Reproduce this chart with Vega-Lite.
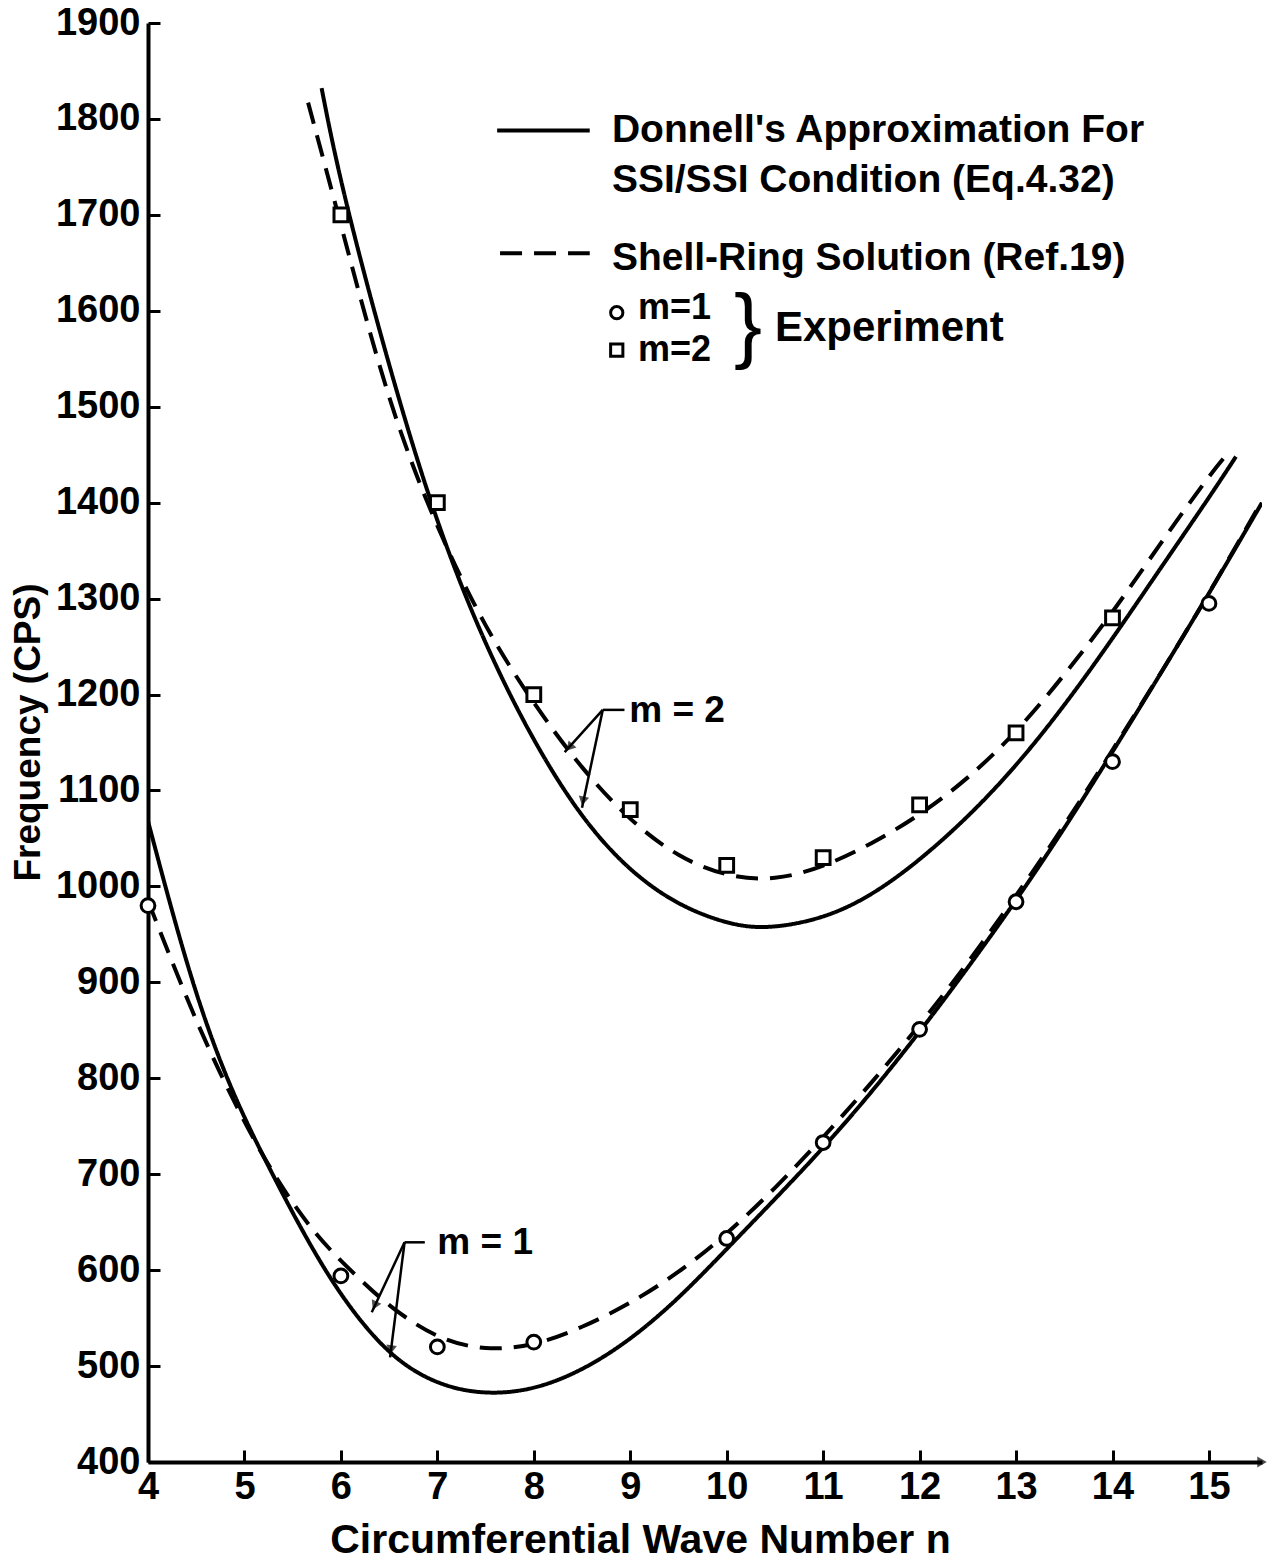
{
  "$schema": "https://vega.github.io/schema/vega-lite/v6.json",
  "width": 1114,
  "height": 1439,
  "autosize": {"type": "none"},
  "padding": {"left": 148, "top": 23, "right": 12, "bottom": 105},
  "background": "white",
  "config": {
    "view": {"stroke": null},
    "font": "Liberation Sans",
    "axis": {
      "domainColor": "black", "domainWidth": 4, "tickColor": "black", "tickWidth": 3,
      "grid": false, "labelFont": "Liberation Sans", "labelFontWeight": "bold", "labelColor": "black",
      "titleFont": "Liberation Sans", "titleFontWeight": "bold", "titleColor": "black"
    }
  },
  "datasets": {
    "curves": [
      {"n": 5.8, "f": 1832, "m": "2", "model": "Donnell"},
      {"n": 6.0, "f": 1730, "m": "2", "model": "Donnell"},
      {"n": 6.5, "f": 1540, "m": "2", "model": "Donnell"},
      {"n": 7.0, "f": 1375, "m": "2", "model": "Donnell"},
      {"n": 7.5, "f": 1250, "m": "2", "model": "Donnell"},
      {"n": 8.0, "f": 1150, "m": "2", "model": "Donnell"},
      {"n": 8.5, "f": 1070, "m": "2", "model": "Donnell"},
      {"n": 9.0, "f": 1015, "m": "2", "model": "Donnell"},
      {"n": 9.5, "f": 980, "m": "2", "model": "Donnell"},
      {"n": 10.0, "f": 961, "m": "2", "model": "Donnell"},
      {"n": 10.4, "f": 955, "m": "2", "model": "Donnell"},
      {"n": 11.0, "f": 966, "m": "2", "model": "Donnell"},
      {"n": 11.5, "f": 990, "m": "2", "model": "Donnell"},
      {"n": 12.0, "f": 1027, "m": "2", "model": "Donnell"},
      {"n": 12.5, "f": 1072, "m": "2", "model": "Donnell"},
      {"n": 13.0, "f": 1125, "m": "2", "model": "Donnell"},
      {"n": 13.5, "f": 1188, "m": "2", "model": "Donnell"},
      {"n": 14.0, "f": 1258, "m": "2", "model": "Donnell"},
      {"n": 14.5, "f": 1332, "m": "2", "model": "Donnell"},
      {"n": 15.0, "f": 1405, "m": "2", "model": "Donnell"},
      {"n": 15.28, "f": 1448, "m": "2", "model": "Donnell"},

      {"n": 5.66, "f": 1817, "m": "2", "model": "Shell-Ring"},
      {"n": 6.0, "f": 1690, "m": "2", "model": "Shell-Ring"},
      {"n": 6.5, "f": 1500, "m": "2", "model": "Shell-Ring"},
      {"n": 7.0, "f": 1372, "m": "2", "model": "Shell-Ring"},
      {"n": 7.5, "f": 1268, "m": "2", "model": "Shell-Ring"},
      {"n": 8.0, "f": 1190, "m": "2", "model": "Shell-Ring"},
      {"n": 8.5, "f": 1122, "m": "2", "model": "Shell-Ring"},
      {"n": 9.0, "f": 1068, "m": "2", "model": "Shell-Ring"},
      {"n": 9.5, "f": 1030, "m": "2", "model": "Shell-Ring"},
      {"n": 10.0, "f": 1010, "m": "2", "model": "Shell-Ring"},
      {"n": 10.5, "f": 1006, "m": "2", "model": "Shell-Ring"},
      {"n": 11.0, "f": 1020, "m": "2", "model": "Shell-Ring"},
      {"n": 11.5, "f": 1044, "m": "2", "model": "Shell-Ring"},
      {"n": 12.0, "f": 1074, "m": "2", "model": "Shell-Ring"},
      {"n": 12.5, "f": 1112, "m": "2", "model": "Shell-Ring"},
      {"n": 13.0, "f": 1160, "m": "2", "model": "Shell-Ring"},
      {"n": 13.5, "f": 1220, "m": "2", "model": "Shell-Ring"},
      {"n": 14.0, "f": 1285, "m": "2", "model": "Shell-Ring"},
      {"n": 14.5, "f": 1358, "m": "2", "model": "Shell-Ring"},
      {"n": 15.0, "f": 1428, "m": "2", "model": "Shell-Ring"},
      {"n": 15.2, "f": 1452, "m": "2", "model": "Shell-Ring"},

      {"n": 4.0, "f": 1068, "m": "1", "model": "Donnell"},
      {"n": 4.42, "f": 909, "m": "1", "model": "Donnell"},
      {"n": 4.8, "f": 801, "m": "1", "model": "Donnell"},
      {"n": 5.17, "f": 723, "m": "1", "model": "Donnell"},
      {"n": 5.6, "f": 640, "m": "1", "model": "Donnell"},
      {"n": 6.0, "f": 572, "m": "1", "model": "Donnell"},
      {"n": 6.5, "f": 510, "m": "1", "model": "Donnell"},
      {"n": 7.0, "f": 480, "m": "1", "model": "Donnell"},
      {"n": 7.5, "f": 470, "m": "1", "model": "Donnell"},
      {"n": 8.0, "f": 475, "m": "1", "model": "Donnell"},
      {"n": 8.5, "f": 495, "m": "1", "model": "Donnell"},
      {"n": 9.0, "f": 527, "m": "1", "model": "Donnell"},
      {"n": 9.5, "f": 570, "m": "1", "model": "Donnell"},
      {"n": 10.0, "f": 622, "m": "1", "model": "Donnell"},
      {"n": 10.5, "f": 674, "m": "1", "model": "Donnell"},
      {"n": 11.0, "f": 727, "m": "1", "model": "Donnell"},
      {"n": 11.5, "f": 785, "m": "1", "model": "Donnell"},
      {"n": 12.0, "f": 848, "m": "1", "model": "Donnell"},
      {"n": 12.5, "f": 915, "m": "1", "model": "Donnell"},
      {"n": 13.0, "f": 985, "m": "1", "model": "Donnell"},
      {"n": 13.5, "f": 1060, "m": "1", "model": "Donnell"},
      {"n": 14.0, "f": 1140, "m": "1", "model": "Donnell"},
      {"n": 14.5, "f": 1222, "m": "1", "model": "Donnell"},
      {"n": 15.0, "f": 1305, "m": "1", "model": "Donnell"},
      {"n": 15.55, "f": 1400, "m": "1", "model": "Donnell"},

      {"n": 4.0, "f": 985, "m": "1", "model": "Shell-Ring"},
      {"n": 4.43, "f": 875, "m": "1", "model": "Shell-Ring"},
      {"n": 4.8, "f": 793, "m": "1", "model": "Shell-Ring"},
      {"n": 5.24, "f": 708, "m": "1", "model": "Shell-Ring"},
      {"n": 5.72, "f": 637, "m": "1", "model": "Shell-Ring"},
      {"n": 6.17, "f": 593, "m": "1", "model": "Shell-Ring"},
      {"n": 6.5, "f": 562, "m": "1", "model": "Shell-Ring"},
      {"n": 7.0, "f": 528, "m": "1", "model": "Shell-Ring"},
      {"n": 7.5, "f": 516, "m": "1", "model": "Shell-Ring"},
      {"n": 8.0, "f": 521, "m": "1", "model": "Shell-Ring"},
      {"n": 8.5, "f": 540, "m": "1", "model": "Shell-Ring"},
      {"n": 9.0, "f": 565, "m": "1", "model": "Shell-Ring"},
      {"n": 9.5, "f": 597, "m": "1", "model": "Shell-Ring"},
      {"n": 10.0, "f": 637, "m": "1", "model": "Shell-Ring"},
      {"n": 10.5, "f": 685, "m": "1", "model": "Shell-Ring"},
      {"n": 11.0, "f": 738, "m": "1", "model": "Shell-Ring"},
      {"n": 11.5, "f": 795, "m": "1", "model": "Shell-Ring"},
      {"n": 12.0, "f": 855, "m": "1", "model": "Shell-Ring"},
      {"n": 12.5, "f": 920, "m": "1", "model": "Shell-Ring"},
      {"n": 13.0, "f": 990, "m": "1", "model": "Shell-Ring"},
      {"n": 13.5, "f": 1063, "m": "1", "model": "Shell-Ring"},
      {"n": 14.0, "f": 1142, "m": "1", "model": "Shell-Ring"},
      {"n": 14.5, "f": 1222, "m": "1", "model": "Shell-Ring"},
      {"n": 15.0, "f": 1305, "m": "1", "model": "Shell-Ring"},
      {"n": 15.55, "f": 1402, "m": "1", "model": "Shell-Ring"}
    ],
    "experiment": [
      {"n": 4, "f": 980, "m": "1"},
      {"n": 6, "f": 594, "m": "1"},
      {"n": 7, "f": 520, "m": "1"},
      {"n": 8, "f": 525, "m": "1"},
      {"n": 10, "f": 633, "m": "1"},
      {"n": 11, "f": 733, "m": "1"},
      {"n": 12, "f": 851, "m": "1"},
      {"n": 13, "f": 984, "m": "1"},
      {"n": 14, "f": 1130, "m": "1"},
      {"n": 15, "f": 1295, "m": "1"},
      {"n": 6, "f": 1700, "m": "2"},
      {"n": 7, "f": 1400, "m": "2"},
      {"n": 8, "f": 1200, "m": "2"},
      {"n": 9, "f": 1080, "m": "2"},
      {"n": 10, "f": 1022, "m": "2"},
      {"n": 11, "f": 1030, "m": "2"},
      {"n": 12, "f": 1085, "m": "2"},
      {"n": 13, "f": 1160, "m": "2"},
      {"n": 14, "f": 1280, "m": "2"}
    ],
    "legendLines": [
      {"n": 7.62, "n2": 8.58, "f": 1788, "model": "Donnell"},
      {"n": 7.65, "n2": 8.58, "f": 1660, "model": "Shell-Ring"}
    ],
    "legendSymbols": [
      {"n": 8.86, "f": 1598, "m": "1"},
      {"n": 8.86, "f": 1559, "m": "2"}
    ],
    "texts": [
      {"n": 8.81, "f": 1788, "text": "Donnell's Approximation For"},
      {"n": 8.81, "f": 1736, "text": "SSI/SSI Condition (Eq.4.32)"},
      {"n": 8.81, "f": 1655, "text": "Shell-Ring Solution (Ref.19)"}
    ],
    "bigTexts": [
      {"n": 10.5, "f": 1582, "text": "Experiment"}
    ],
    "smallTexts": [
      {"n": 9.08, "f": 1603, "text": "m=1"},
      {"n": 9.08, "f": 1559, "text": "m=2"}
    ],
    "annotations": [
      {"n": 8.99, "f": 1183, "text": "m = 2"},
      {"n": 7.0, "f": 628, "text": "m = 1"}
    ],
    "brace": [
      {"n": 10.22, "f": 1582, "text": "}"}
    ],
    "leaders": [
      {"n": 8.715, "f": 1184, "n2": 8.94, "f2": 1184},
      {"n": 8.715, "f": 1184, "n2": 8.32, "f2": 1140},
      {"n": 8.715, "f": 1184, "n2": 8.5, "f2": 1082},
      {"n": 6.66, "f": 629, "n2": 6.87, "f2": 629},
      {"n": 6.66, "f": 629, "n2": 6.32, "f2": 556},
      {"n": 6.66, "f": 629, "n2": 6.51, "f2": 509}
    ],
    "heads": [
      {"n": 8.37, "f": 1145, "id": "a"},
      {"n": 8.51, "f": 1089, "id": "b"},
      {"n": 6.35, "f": 563, "id": "c"},
      {"n": 6.52, "f": 517, "id": "d"}
    ],
    "axisEnd": [
      {"n": 15.55, "f": 400}
    ]
  },
  "layer": [
    {
      "data": {"name": "curves"},
      "mark": {"type": "line", "interpolate": "basis", "strokeWidth": 4, "color": "black", "clip": true},
      "encoding": {
        "x": {
          "field": "n", "type": "quantitative",
          "scale": {"domain": [4, 15.55], "nice": false, "zero": false},
          "axis": {
            "values": [4, 5, 6, 7, 8, 9, 10, 11, 12, 13, 14, 15], "format": "d",
            "tickSize": -12, "labelPadding": 18, "labelFontSize": 38, "labelFlush": false,
            "title": "Circumferential Wave Number  n", "titleFontSize": 41,
            "titleX": 492, "titleY": 78, "titleBaseline": "middle", "titleAlign": "center"
          }
        },
        "y": {
          "field": "f", "type": "quantitative",
          "scale": {"domain": [400, 1900], "nice": false, "zero": false},
          "axis": {
            "values": [400, 500, 600, 700, 800, 900, 1000, 1100, 1200, 1300, 1400, 1500, 1600, 1700, 1800, 1900], "format": "d",
            "tickSize": -12, "labelPadding": 20, "labelFontSize": 38, "labelFlush": false,
            "title": "Frequency (CPS)", "titleFontSize": 37,
            "titleX": -120, "titleY": 709, "titleAngle": -90, "titleBaseline": "middle", "titleAlign": "center"
          }
        },
        "detail": {"field": "m"},
        "strokeDash": {
          "field": "model", "type": "nominal",
          "scale": {"domain": ["Donnell", "Shell-Ring"], "range": [[1, 0], [22, 12]]},
          "legend": null
        }
      }
    },
    {
      "data": {"name": "legendLines"},
      "mark": {"type": "rule", "strokeWidth": 4, "color": "black"},
      "encoding": {
        "x": {"field": "n", "type": "quantitative"},
        "x2": {"field": "n2"},
        "y": {"field": "f", "type": "quantitative"},
        "strokeDash": {"field": "model", "type": "nominal", "legend": null}
      }
    },
    {
      "data": {"name": "leaders"},
      "mark": {"type": "rule", "strokeWidth": 2.5, "color": "black"},
      "encoding": {
        "x": {"field": "n", "type": "quantitative"},
        "x2": {"field": "n2"},
        "y": {"field": "f", "type": "quantitative"},
        "y2": {"field": "f2"}
      }
    },
    {
      "data": {"name": "heads"},
      "transform": [{"filter": "datum.id == 'a'"}],
      "mark": {"type": "point", "shape": "triangle-up", "filled": true, "color": "black", "size": 110, "angle": 222},
      "encoding": {"x": {"field": "n", "type": "quantitative"}, "y": {"field": "f", "type": "quantitative"}}
    },
    {
      "data": {"name": "heads"},
      "transform": [{"filter": "datum.id == 'b'"}],
      "mark": {"type": "point", "shape": "triangle-up", "filled": true, "color": "black", "size": 110, "angle": 192},
      "encoding": {"x": {"field": "n", "type": "quantitative"}, "y": {"field": "f", "type": "quantitative"}}
    },
    {
      "data": {"name": "heads"},
      "transform": [{"filter": "datum.id == 'c'"}],
      "mark": {"type": "point", "shape": "triangle-up", "filled": true, "color": "black", "size": 110, "angle": 205},
      "encoding": {"x": {"field": "n", "type": "quantitative"}, "y": {"field": "f", "type": "quantitative"}}
    },
    {
      "data": {"name": "heads"},
      "transform": [{"filter": "datum.id == 'd'"}],
      "mark": {"type": "point", "shape": "triangle-up", "filled": true, "color": "black", "size": 110, "angle": 187},
      "encoding": {"x": {"field": "n", "type": "quantitative"}, "y": {"field": "f", "type": "quantitative"}}
    },
    {
      "data": {"name": "axisEnd"},
      "mark": {"type": "point", "shape": "triangle-right", "filled": true, "color": "black", "size": 120, "clip": false},
      "encoding": {"x": {"field": "n", "type": "quantitative"}, "y": {"field": "f", "type": "quantitative"}}
    },
    {
      "data": {"name": "experiment"},
      "mark": {"type": "point", "filled": true, "fill": "white", "stroke": "black", "strokeWidth": 3, "size": 190, "opacity": 1},
      "encoding": {
        "x": {"field": "n", "type": "quantitative"},
        "y": {"field": "f", "type": "quantitative"},
        "shape": {
          "field": "m", "type": "nominal",
          "scale": {"domain": ["1", "2"], "range": ["circle", "square"]},
          "legend": null
        }
      }
    },
    {
      "data": {"name": "legendSymbols"},
      "mark": {"type": "point", "filled": true, "fill": "white", "stroke": "black", "strokeWidth": 3, "size": 150, "opacity": 1},
      "encoding": {
        "x": {"field": "n", "type": "quantitative"},
        "y": {"field": "f", "type": "quantitative"},
        "shape": {"field": "m", "type": "nominal", "legend": null}
      }
    },
    {
      "data": {"name": "texts"},
      "mark": {"type": "text", "align": "left", "baseline": "middle", "font": "Liberation Sans", "fontWeight": "bold", "fontSize": 39, "color": "black"},
      "encoding": {
        "x": {"field": "n", "type": "quantitative"},
        "y": {"field": "f", "type": "quantitative"},
        "text": {"field": "text"}
      }
    },
    {
      "data": {"name": "bigTexts"},
      "mark": {"type": "text", "align": "left", "baseline": "middle", "font": "Liberation Sans", "fontWeight": "bold", "fontSize": 42, "color": "black"},
      "encoding": {
        "x": {"field": "n", "type": "quantitative"},
        "y": {"field": "f", "type": "quantitative"},
        "text": {"field": "text"}
      }
    },
    {
      "data": {"name": "smallTexts"},
      "mark": {"type": "text", "align": "left", "baseline": "middle", "font": "Liberation Sans", "fontWeight": "bold", "fontSize": 36, "color": "black"},
      "encoding": {
        "x": {"field": "n", "type": "quantitative"},
        "y": {"field": "f", "type": "quantitative"},
        "text": {"field": "text"}
      }
    },
    {
      "data": {"name": "annotations"},
      "mark": {"type": "text", "align": "left", "baseline": "middle", "font": "Liberation Sans", "fontWeight": "bold", "fontSize": 37, "color": "black"},
      "encoding": {
        "x": {"field": "n", "type": "quantitative"},
        "y": {"field": "f", "type": "quantitative"},
        "text": {"field": "text"}
      }
    },
    {
      "data": {"name": "brace"},
      "mark": {"type": "text", "align": "center", "baseline": "middle", "font": "Liberation Sans", "fontWeight": "normal", "fontSize": 84, "color": "black"},
      "encoding": {
        "x": {"field": "n", "type": "quantitative"},
        "y": {"field": "f", "type": "quantitative"},
        "text": {"field": "text"}
      }
    }
  ]
}
